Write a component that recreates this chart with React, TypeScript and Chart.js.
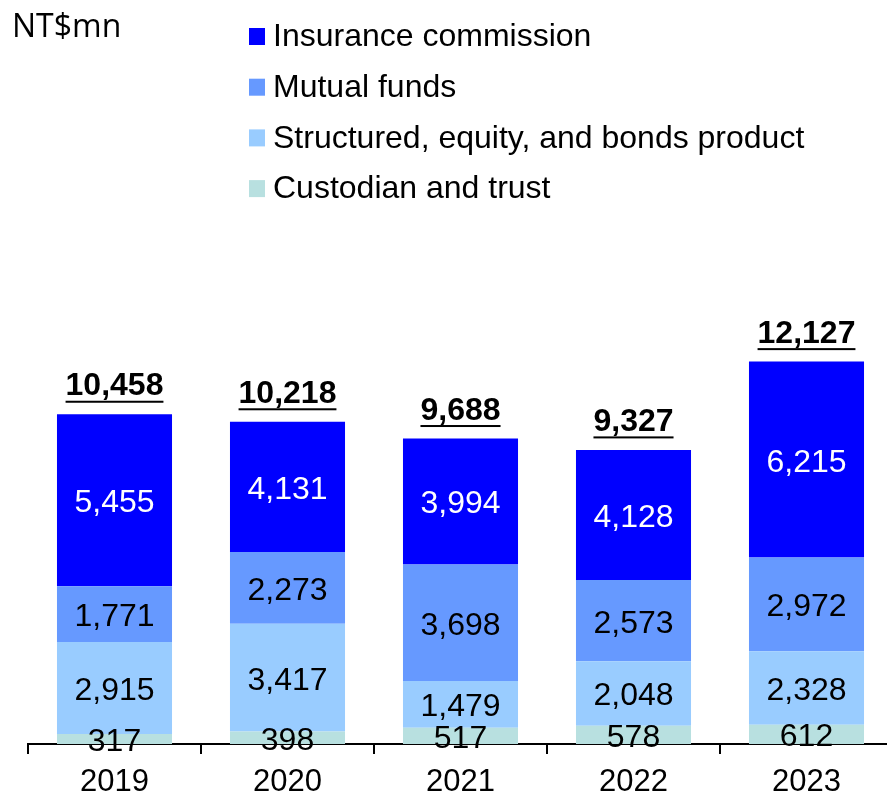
import React, { useEffect, useRef } from "react";
import { Chart, registerables } from "chart.js";

Chart.register(...registerables);

const categories = ["2019", "2020", "2021", "2022", "2023"];
const custodian = [317, 398, 517, 578, 612];
const structured = [2915, 3417, 1479, 2048, 2328];
const mutualFunds = [1771, 2273, 3698, 2573, 2972];
const insurance = [5455, 4131, 3994, 4128, 6215];
const totals = [10458, 10218, 9688, 9327, 12127];
const legendNames = [
  "Insurance commission",
  "Mutual funds",
  "Structured, equity, and bonds product",
  "Custodian and trust",
];
const legendColors = ["#0000FF", "#6699FF", "#99CCFF", "#B8E0E0"];
const unitLabel = "NT$mn";

const FONT = '"Liberation Sans", Arial, sans-serif';
const fmt = (n: number) => n.toLocaleString("en-US");

const overlayPlugin = {
  id: "overlay",
  afterDatasetsDraw(chart: any) {
    const ctx = chart.ctx;
    ctx.save();
    ctx.font = `32px ${FONT}`;
    ctx.textAlign = "center";
    ctx.textBaseline = "alphabetic";
    chart.data.datasets.forEach((ds: any, di: number) => {
      const meta = chart.getDatasetMeta(di);
      meta.data.forEach((el: any, i: number) => {
        const p = el.getProps(["x", "y", "base"], true);
        ctx.fillStyle = ds.labelColor;
        ctx.fillText(fmt(ds.data[i]), p.x, (p.y + p.base) / 2 + 12);
      });
    });
    const topMeta = chart.getDatasetMeta(chart.data.datasets.length - 1);
    ctx.font = `bold 32px ${FONT}`;
    ctx.textBaseline = "alphabetic";
    ctx.fillStyle = "#000";
    topMeta.data.forEach((el: any, i: number) => {
      const t = fmt(totals[i]);
      ctx.fillText(t, el.x, el.y - 19);
      const w = ctx.measureText(t).width;
      ctx.fillRect(el.x - w / 2, el.y - 13.5, w, 2);
    });
    ctx.restore();
  },
  afterDraw(chart: any) {
    const ctx = chart.ctx;
    ctx.save();
    ctx.fillStyle = "#000";
    ctx.font = `32px "Open Sans", sans-serif`;
    ctx.textAlign = "left";
    ctx.textBaseline = "alphabetic";
    ctx.fillText(unitLabel, 12, 37);
    ctx.font = `32px ${FONT}`;
    ctx.textBaseline = "middle";
    legendNames.forEach((name, i) => {
      const cy = 36.5 + i * 50.7;
      ctx.fillStyle = legendColors[i];
      ctx.fillRect(249, cy - 8.5, 16, 17);
      ctx.fillStyle = "#000";
      ctx.fillText(name, 273, cy + 1);
    });
    ctx.restore();
  },
};

export default function App() {
  const ref = useRef<HTMLCanvasElement | null>(null);
  useEffect(() => {
    if (!ref.current) return;
    const chart = new Chart(ref.current, {
      type: "bar",
      data: {
        labels: categories,
        datasets: [
          { label: legendNames[3], data: custodian, backgroundColor: legendColors[3], labelColor: "#000" } as any,
          { label: legendNames[2], data: structured, backgroundColor: legendColors[2], labelColor: "#000" } as any,
          { label: legendNames[1], data: mutualFunds, backgroundColor: legendColors[1], labelColor: "#000" } as any,
          { label: legendNames[0], data: insurance, backgroundColor: legendColors[0], labelColor: "#fff" } as any,
        ],
      },
      options: {
        animation: false,
        responsive: false,
        devicePixelRatio: 1,
        datasets: { bar: { categoryPercentage: 1, barPercentage: 0.665, borderWidth: 0 } },
        layout: { padding: { left: 28, right: 7, top: 239.5, bottom: 0 } },
        plugins: { legend: { display: false }, tooltip: { enabled: false } },
        scales: {
          x: {
            stacked: true,
            afterFit: (scale: any) => {
              scale.height = 51;
            },
            grid: {
              offset: true,
              drawOnChartArea: false,
              drawTicks: true,
              tickLength: 10,
              color: "#000",
              lineWidth: 2,
            },
            border: { display: true, color: "#000", width: 2 },
            ticks: { color: "#000", font: { family: FONT, size: 31 }, padding: 10 },
          },
          y: {
            stacked: true,
            display: false,
            min: 0,
            max: 16000,
          },
        },
      },
      plugins: [overlayPlugin],
    });
    return () => chart.destroy();
  }, []);
  return (
    <div style={{ position: "fixed", left: 0, top: 0, width: 887, height: 795, overflow: "hidden", background: "#fff" }}>
      <canvas ref={ref} width={900} height={795} style={{ display: "block" }} />
    </div>
  );
}
